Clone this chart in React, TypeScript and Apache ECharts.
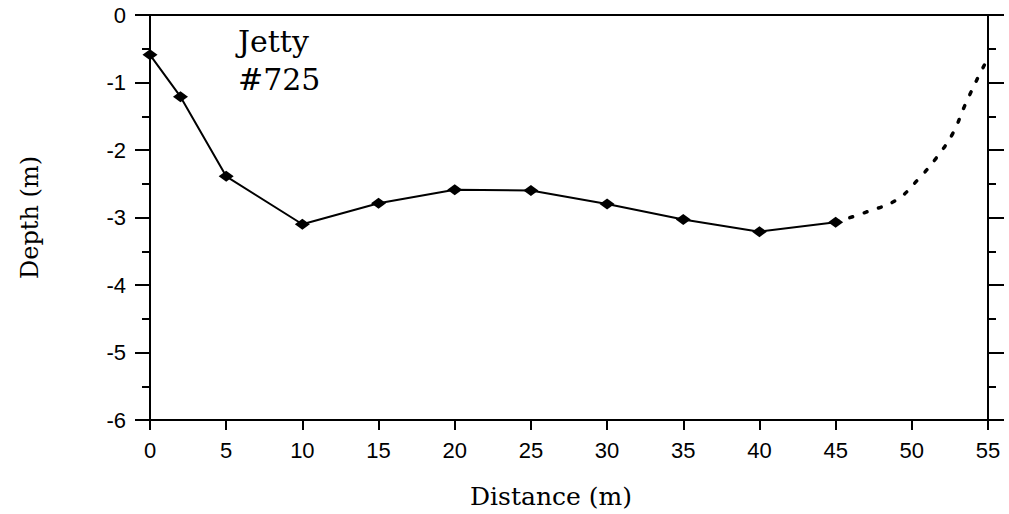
import React, { useEffect, useRef } from "react";
import * as echarts from "echarts";

const distance = [0, 2, 5, 10, 15, 20, 25, 30, 35, 40, 45];
const depth = [-0.59, -1.21, -2.39, -3.1, -2.79, -2.59, -2.6, -2.8, -3.03, -3.21, -3.07];
const extDistance = [45, 47, 49, 50.4, 51.6, 52.7, 53.5, 54.4, 55];
const extDepth = [-3.07, -2.92, -2.74, -2.44, -2.12, -1.75, -1.33, -0.9, -0.64];
const xTicks = [0, 5, 10, 15, 20, 25, 30, 35, 40, 45, 50, 55];
const yTicks = [0, -1, -2, -3, -4, -5, -6];

export default function App() {
  const ref = useRef<HTMLDivElement>(null);
  useEffect(() => {
    if (!ref.current) return;
    const chart = echarts.init(ref.current, null, { renderer: "svg" });
    const black = "#000";
    const tickFont = { color: black, fontFamily: "Liberation Sans", fontSize: 22 };
    chart.setOption({
      animation: false,
      backgroundColor: "#fff",
      grid: { left: 150, right: 21, top: 15, bottom: 93 },
      xAxis: [
        {
          type: "value",
          position: "bottom",
          min: xTicks[0],
          max: xTicks[xTicks.length - 1],
          interval: 5,
          name: "Distance (m)",
          nameLocation: "middle",
          nameGap: 64,
          nameTextStyle: { color: black, fontFamily: "DejaVu Serif", fontSize: 25, padding: [0, 36, 0, 0] },
          axisLine: { show: true, onZero: false, lineStyle: { color: black, width: 2 } },
          axisTick: { show: true, inside: false, length: 10, lineStyle: { color: black, width: 2 } },
          axisLabel: { ...tickFont, margin: 19 },
          splitLine: { show: false },
        },
        {
          type: "value",
          position: "top",
          min: 0,
          max: 55,
          interval: 5,
          axisLine: { show: true, onZero: false, lineStyle: { color: black, width: 2 } },
          axisTick: { show: false },
          axisLabel: { show: false },
          splitLine: { show: false },
        },
      ],
      yAxis: [
        {
          type: "value",
          position: "left",
          min: yTicks[yTicks.length - 1],
          max: yTicks[0],
          interval: 1,
          name: "Depth (m)",
          nameLocation: "middle",
          nameRotate: 90,
          nameGap: 108,
          nameTextStyle: { color: black, fontFamily: "DejaVu Serif", fontSize: 24 },
          axisLine: { show: true, onZero: false, lineStyle: { color: black, width: 2 } },
          axisTick: { show: true, inside: false, length: 15, lineStyle: { color: black, width: 2 } },
          minorTick: { show: true, splitNumber: 2, length: 8, lineStyle: { color: black, width: 2 } },
          axisLabel: { ...tickFont, margin: 24 },
          splitLine: { show: false },
        },
        {
          type: "value",
          position: "right",
          min: -6,
          max: 0,
          interval: 1,
          axisLine: { show: true, onZero: false, lineStyle: { color: black, width: 2 } },
          axisTick: { show: true, inside: false, length: 16, lineStyle: { color: black, width: 2 } },
          minorTick: { show: true, splitNumber: 2, length: 8, lineStyle: { color: black, width: 2 } },
          axisLabel: { show: false },
          splitLine: { show: false },
        },
      ],
      graphic: [
        {
          type: "text",
          left: 238,
          top: 22,
          style: {
            text: "Jetty\n#725",
            fill: black,
            font: "30px 'DejaVu Serif'",
            lineHeight: 38,
          },
        },
      ],
      series: [
        {
          type: "line",
          data: distance.map((d, i) => [d, depth[i]]),
          symbol: "diamond",
          symbolSize: [15, 11],
          itemStyle: { color: black },
          lineStyle: { color: black, width: 2 },
          z: 3,
        },
        {
          type: "line",
          data: extDistance.map((d, i) => [d, extDepth[i]]),
          smooth: 0.4,
          showSymbol: false,
          symbol: "none",
          lineStyle: { color: black, width: 3.5, type: [3, 12], cap: "round" },
          z: 2,
        },
      ],
    });
    return () => chart.dispose();
  }, []);
  return (
    <div
      ref={ref}
      style={{ position: "absolute", left: 0, top: 0, width: 1009, height: 514 }}
    />
  );
}
